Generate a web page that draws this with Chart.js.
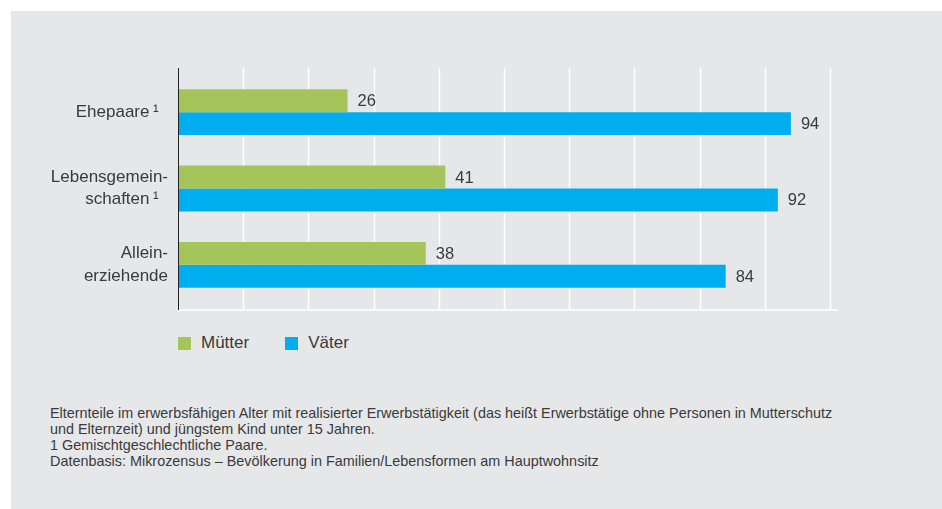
<!DOCTYPE html>
<html lang="de">
<head>
<meta charset="utf-8">
<script src="https://cdn.jsdelivr.net/npm/chart.js@4/dist/chart.umd.min.js"></script>
<style>
  body { margin: 0; background: #fff; font-family: "Liberation Sans", Arial, Helvetica, sans-serif; color: #3a3a3a; }
  #panel { position: absolute; left: 11px; top: 11px; width: 931px; height: 498px; background: #e6e7e9; }
  #chartBox { position: absolute; left: 0; top: 0; width: 942px; height: 330px; }
  #legend { position: absolute; left: 178px; top: 333px; font-size: 17px; display: flex; }
  #legend .item { display: flex; align-items: center; margin-right: 36px; height: 20px; }
  #legend .sw { width: 13px; height: 13px; margin-right: 10px; }
  #note { position: absolute; left: 50px; top: 405px; font-size: 14.4px; line-height: 16px; }
</style>
</head>
<body>
<div id="panel"></div>
<div id="chartBox"><canvas id="chart"></canvas></div>
<div id="legend"></div>
<div id="note">
  Elternteile im erwerbsfähigen Alter mit realisierter Erwerbstätigkeit (das heißt Erwerbstätige ohne Personen in Mutterschutz<br>
  und Elternzeit) und jüngstem Kind unter 15 Jahren.<br>
  1 Gemischtgeschlechtliche Paare.<br>
  Datenbasis: Mikrozensus – Bevölkerung in Familien/Lebensformen am Hauptwohnsitz
</div>
<script>
// Kategorien und Werte (Prozent)
const categories = [
    ['Ehepaare\u2009¹\u00a0\u00a0'],
    ['Lebensgemein-', 'schaften\u2009¹\u00a0\u00a0'],
    ['Allein-', 'erziehende']
];
const muetter = [26, 41, 38];
const vaeter = [94, 92, 84];
const seriesNames = ['Mütter', 'Väter'];
const gridTicks = [10, 20, 30, 40, 50, 60, 70, 80, 90, 100];

const green = '#a5c459';
const blue = '#00adee';
const textColor = '#3a3a3a';
const fontFamily = '"Liberation Sans", Arial, Helvetica, sans-serif';

// white vertical grid + black axis line, drawn from the scales
const gridPlugin = {
    id: 'gridLines',
    beforeDatasetsDraw(chart) {
        const { ctx, chartArea, scales } = chart;
        const top = chartArea.top - 6, bottom = chartArea.bottom + 7;
        ctx.save();
        ctx.strokeStyle = '#ffffff';
        ctx.lineWidth = 1.5;
        gridTicks.forEach(v => {
            const x = Math.round(scales.x.getPixelForValue(v)) + 0.5;
            ctx.beginPath();
            ctx.moveTo(x, top);
            ctx.lineTo(x, bottom);
            ctx.stroke();
        });
        ctx.beginPath();
        ctx.moveTo(chartArea.left, bottom);
        ctx.lineTo(scales.x.getPixelForValue(100) + 8, bottom);
        ctx.stroke();
        ctx.restore();
    },
    afterDatasetsDraw(chart) {
        const { ctx, chartArea, scales } = chart;
        const x = Math.round(scales.x.getPixelForValue(0)) + 0.5;
        ctx.save();
        ctx.strokeStyle = '#222';
        ctx.lineWidth = 1;
        ctx.beginPath();
        ctx.moveTo(x, chartArea.top - 6);
        ctx.lineTo(x, chartArea.bottom + 7);
        ctx.stroke();

        // value labels right of each bar
        ctx.fillStyle = textColor;
        ctx.font = '16.5px ' + fontFamily;
        ctx.textAlign = 'left';
        ctx.textBaseline = 'middle';
        chart.data.datasets.forEach((ds, i) => {
            chart.getDatasetMeta(i).data.forEach((bar, j) => {
                ctx.fillText(String(ds.data[j]), bar.x + 10, bar.y + 1);
            });
        });
        ctx.restore();
    }
};

const chart = new Chart(document.getElementById('chart'), {
    type: 'bar',
    data: {
        labels: categories,
        datasets: [
            { label: seriesNames[0], data: muetter, backgroundColor: green },
            { label: seriesNames[1], data: vaeter, backgroundColor: blue }
        ]
    },
    options: {
        indexAxis: 'y',
        responsive: true,
        maintainAspectRatio: false,
        animation: false,
        categoryPercentage: 0.6,
        barPercentage: 1.0,
        layout: { padding: { top: 74, right: 112, bottom: 27, left: 0 } },
        scales: {
            x: { min: 0, max: 100, display: false },
            y: {
                grid: { display: false },
                border: { display: false },
                afterFit(scale) { scale.width = 178; },
                ticks: {
                    color: textColor,
                    padding: 2,
                    font: { family: fontFamily, size: 17, lineHeight: 1.3 }
                }
            }
        },
        plugins: {
            legend: { display: false },
            tooltip: { enabled: false }
        }
    },
    plugins: [gridPlugin]
});

// legend in HTML, built from the datasets
const legendDiv = document.getElementById('legend');
chart.data.datasets.forEach(ds => {
    const item = document.createElement('div');
    item.className = 'item';
    item.innerHTML = '<span class="sw" style="background:' + ds.backgroundColor + '"></span>' + ds.label;
    legendDiv.appendChild(item);
});
</script>
</body>
</html>
